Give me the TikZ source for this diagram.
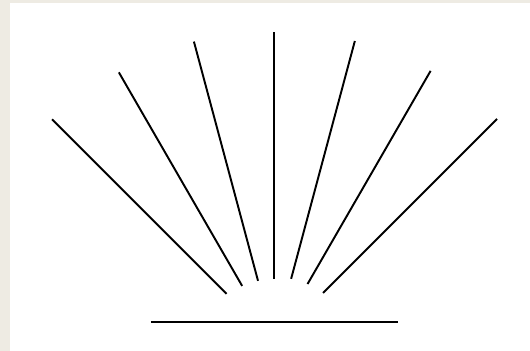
\documentclass[tikz,border=0pt]{standalone}
\usepackage{xcolor}
\usepackage{tikz}
\usetikzlibrary{positioning}

\definecolor{frame}{RGB}{238,235,227}
\tikzset{ray/.style={line width=1.1pt, black}}

\begin{document}
\begin{tikzpicture}
		% Frame and background:
		\fill[frame] (0,0) rectangle (10.6,7.02);
		\fill[white] (0.2,0) rectangle (10.6,6.96);
		\useasboundingbox (0,0) rectangle (10.6,7.02);
		% Rays and base line:
		\coordinate (centre) at (5.486,0.188);
		\foreach \a/\ri/\ro in {45/1.378/6.298, 60/1.33/6.252, 75/1.30/6.224, 90/1.258/6.186, 105/1.258/6.212, 120/1.286/6.218, 135/1.35/6.286}
			\draw[ray] ([shift={(\a:\ri)}]centre) -- ([shift={(\a:\ro)}]centre);
		\coordinate (baseL) at (3.016,0.58);
		\coordinate (baseR) at (7.964,0.58);
		\draw[ray] (baseL) -- (baseR);
	\end{tikzpicture}
\end{document}
